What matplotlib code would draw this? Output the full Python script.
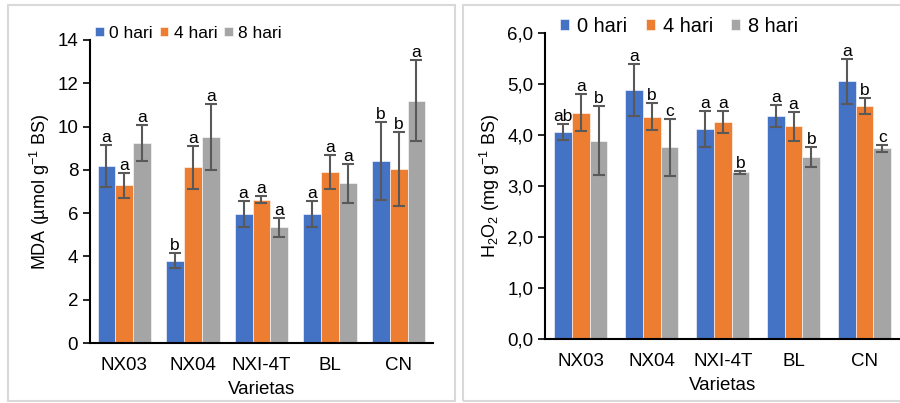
import numpy as np
import matplotlib
matplotlib.use("Agg")
import matplotlib.pyplot as plt
from matplotlib.patches import Rectangle
from matplotlib.ticker import FuncFormatter

plt.rcParams['font.family'] = ['Liberation Sans', 'DejaVu Sans']
plt.rcParams['mathtext.fontset'] = 'custom'
plt.rcParams['mathtext.rm'] = 'Liberation Sans'
plt.rcParams['mathtext.it'] = 'Liberation Sans'

varietas = ['NX03', 'NX04', 'NXI-4T', 'BL', 'CN']
series = ['0 hari', '4 hari', '8 hari']
colors = ['#4472C4', '#ED7D31', '#A5A5A5']

# MDA
mda_0 = [8.18, 3.80, 5.96, 5.96, 8.39]
mda_4 = [7.28, 8.12, 6.62, 7.90, 8.04]
mda_8 = [9.24, 9.52, 5.34, 7.39, 11.20]
mda_err0 = [0.98, 0.35, 0.62, 0.62, 1.80]
mda_err4 = [0.57, 1.00, 0.15, 0.80, 1.70]
mda_err8 = [0.82, 1.54, 0.45, 0.90, 1.86]
mda_lbl0 = ['a', 'b', 'a', 'a', 'b']
mda_lbl4 = ['a', 'a', 'a', 'a', 'b']
mda_lbl8 = ['a', 'a', 'a', 'a', 'a']

# H2O2
h2o2_0 = [4.06, 4.88, 4.12, 4.37, 5.05]
h2o2_4 = [4.44, 4.36, 4.25, 4.17, 4.57]
h2o2_8 = [3.89, 3.76, 3.27, 3.57, 3.74]
h2o2_err0 = [0.16, 0.51, 0.36, 0.21, 0.44]
h2o2_err4 = [0.36, 0.27, 0.22, 0.29, 0.16]
h2o2_err8 = [0.68, 0.56, 0.03, 0.19, 0.07]
h2o2_lbl0 = ['ab', 'a', 'a', 'a', 'a']
h2o2_lbl4 = ['a', 'b', 'a', 'a', 'b']
h2o2_lbl8 = ['b', 'c', 'b', 'b', 'c']

fig = plt.figure(figsize=(9, 4.03), dpi=100)

# panel frames
fig.patches.append(Rectangle((8/900, 1-401/403), 447/900, 396/403, transform=fig.transFigure,
                             fill=False, edgecolor='#D9D9D9', lw=1.5))
fig.patches.append(Rectangle((463/900, 1-401/403), 440/900, 396/403, transform=fig.transFigure,
                             fill=False, edgecolor='#D9D9D9', lw=1.5))


def draw(ax, vals, errs, lbls, ymax, ystep, ylabel, fmt, w):
    x = np.arange(len(varietas))
    for i in range(3):
        pos = x + (i - 1) * w
        ax.bar(pos, vals[i], w, color=colors[i], edgecolor='white', linewidth=0.4,
               label=series[i], zorder=2)
        ax.errorbar(pos, vals[i], yerr=errs[i], fmt='none', ecolor='#595959',
                    elinewidth=1.5, capsize=4, capthick=1.5, zorder=3)
        for p, v, e, t in zip(pos, vals[i], errs[i], lbls[i]):
            ax.annotate(t, (p, v + e), xytext=(0, 0), textcoords='offset points',
                        ha='center', va='bottom', fontsize=12.5)
    ax.set_xlim(-0.5, len(varietas) - 0.5)
    ax.set_ylim(0, ymax)
    ax.set_yticks(np.arange(0, ymax + ystep / 2, ystep))
    ax.yaxis.set_major_formatter(FuncFormatter(fmt))
    ax.set_xticks(x)
    ax.set_xticklabels(varietas)
    ax.tick_params(axis='x', length=0, labelsize=13.5, pad=10)
    ax.tick_params(axis='y', length=5, width=1.2, labelsize=13.5, direction='out')
    for s in ['top', 'right']:
        ax.spines[s].set_visible(False)
    ax.spines['left'].set_linewidth(1.5)
    ax.spines['bottom'].set_linewidth(1.5)
    ax.set_xlabel('Varietas', fontsize=13.5, labelpad=5)
    ax.set_ylabel(ylabel, fontsize=13)


ax1 = fig.add_axes([0.100, 1 - 343/403, 0.381, 303/403])
draw(ax1, [mda_0, mda_4, mda_8], [mda_err0, mda_err4, mda_err8],
     [mda_lbl0, mda_lbl4, mda_lbl8], 14, 2, 'MDA (µmol g$^{-1}$ BS)',
     lambda v, p: '%d' % v, 0.26)
ax1.legend(loc='lower left', bbox_to_anchor=(-0.005, 0.975), ncol=3, frameon=False,
           fontsize=12.5, handlelength=0.5, handleheight=0.5, handletextpad=0.3,
           columnspacing=0.4, borderaxespad=0)

ax2 = fig.add_axes([0.606, 1 - 339/403, 0.394, 306/403])
draw(ax2, [h2o2_0, h2o2_4, h2o2_8], [h2o2_err0, h2o2_err4, h2o2_err8],
     [h2o2_lbl0, h2o2_lbl4, h2o2_lbl8], 6, 1, 'H$_2$O$_2$ (mg g$^{-1}$ BS)',
     lambda v, p: ('%.1f' % v).replace('.', ','), 0.25)
ax2.legend(loc='lower left', bbox_to_anchor=(0.02, 0.965), ncol=3, frameon=False,
           fontsize=14.4, handlelength=0.45, handleheight=0.45, handletextpad=0.4,
           columnspacing=0.9, borderaxespad=0)

fig.savefig('out.png', dpi=100)
